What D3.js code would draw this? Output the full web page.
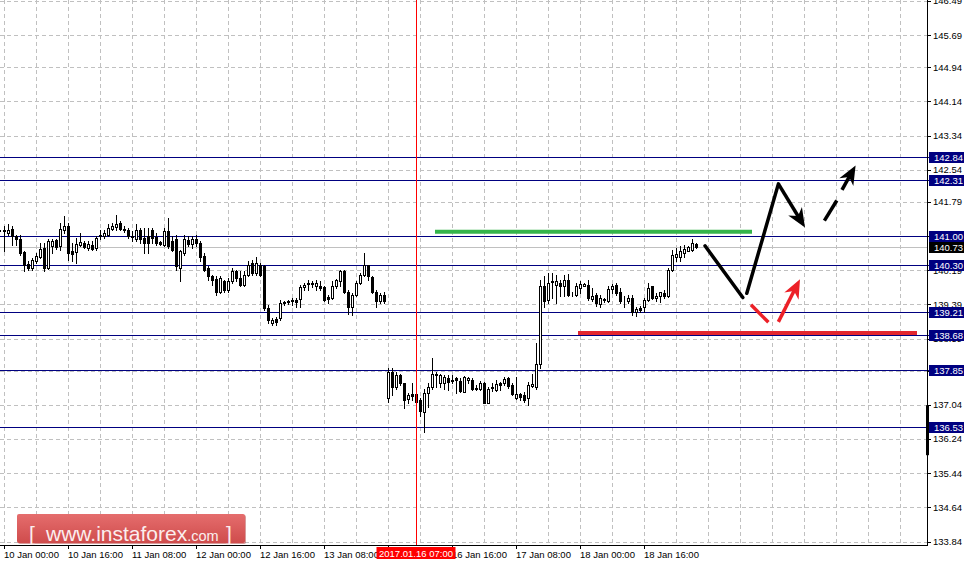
<!DOCTYPE html>
<html>
<head>
<meta charset="utf-8">
<script src="https://d3js.org/d3.v7.min.js"></script>
<style>
  body { margin: 0; background: #fff; }
  svg { display: block; font-family: "Liberation Sans", Arial, sans-serif; }
</style>
</head>
<body>
<div id="chart"></div>
<script>
// H1 bars, index 0 = 10 Jan 00:00 (first bar shown is index -1)
var firstBar = -1;
var opens = [
  141.12,141.12,141.06,141.16,140.98,140.93,140.61,140.34,140.24,140.40,
  140.51,140.71,140.24,140.75,140.89,140.75,141.14,141.23,140.63,140.61,
  140.79,140.83,140.71,140.79,140.71,140.99,141.00,141.02,141.16,141.20,
  141.30,141.16,141.14,141.00,140.92,141.12,140.94,140.98,141.12,140.97,
  140.84,140.79,141.10,140.87,140.91,140.24,140.59,140.89,140.81,140.92,
  140.83,140.53,140.24,140.05,139.98,139.69,139.93,139.73,139.93,140.16,
  140.01,139.85,140.08,140.36,140.12,140.32,140.28,139.30,138.95,139.04,
  139.07,139.43,139.45,139.50,139.50,139.51,139.79,139.90,139.90,139.81,
  139.83,139.79,139.56,139.54,139.83,139.93,140.16,139.69,139.32,139.61,
  139.90,140.08,140.30,140.03,139.69,139.46,139.61,137.19,137.81,137.46,
  137.74,137.54,137.17,137.30,137.29,137.15,136.88,137.32,137.46,137.77,
  137.56,137.56,137.66,137.60,137.66,137.60,137.35,137.62,137.62,137.44,
  137.42,137.54,137.07,137.44,137.38,137.54,137.56,137.66,137.50,137.21,
  137.29,137.27,137.19,137.48,137.46,137.99,139.83,139.50,139.92,139.85,
  139.89,139.81,139.95,139.61,139.61,139.77,139.83,139.85,139.51,139.61,
  139.40,139.50,139.46,139.75,139.85,139.67,139.50,139.46,139.54,139.22,
  139.30,139.34,139.50,139.81,139.54,139.58,139.65,139.58,140.20,140.49,
  140.49,140.59,140.65,140.67,140.80
];
var highs = [
  141.14,141.22,141.28,141.23,141.02,141.02,140.63,140.40,140.48,140.59,
  140.83,140.83,140.91,140.91,140.92,141.30,141.45,141.30,140.83,140.94,
  141.05,140.87,140.87,140.87,140.98,141.14,141.14,141.28,141.30,141.47,
  141.34,141.22,141.18,141.10,141.28,141.18,141.18,141.18,141.18,141.06,
  140.87,141.18,141.41,140.98,141.02,140.67,141.02,141.00,140.98,141.02,
  140.87,140.59,140.28,140.08,140.05,140.05,139.97,140.01,140.24,140.20,
  140.16,140.16,140.40,140.44,140.51,140.36,140.30,139.38,139.07,139.09,
  139.50,139.47,139.50,139.54,139.54,139.85,139.89,139.95,139.93,139.97,
  139.93,139.81,139.61,139.93,139.98,140.20,140.20,139.73,139.65,139.93,
  140.12,140.59,140.32,140.06,139.73,139.65,139.69,137.89,137.89,137.81,
  137.77,137.56,137.32,137.54,137.31,137.19,137.42,137.54,138.13,137.81,
  137.77,137.74,137.74,137.74,137.70,137.66,137.71,137.70,137.66,137.50,
  137.60,137.58,137.46,137.54,137.62,137.58,137.70,137.70,137.54,137.68,
  137.31,137.35,137.58,137.77,138.48,139.97,140.05,140.12,140.12,140.08,
  139.97,140.08,140.11,139.69,139.89,139.93,139.90,139.95,139.77,139.65,
  139.61,139.54,139.81,139.87,139.89,139.77,139.58,139.61,139.61,139.34,
  139.36,139.54,139.89,139.83,139.65,139.69,139.73,140.24,140.67,140.71,
  140.75,140.79,140.75,140.91,140.83
];
var lows = [
  141.10,140.63,141.02,140.79,140.79,140.55,140.16,140.19,140.19,140.36,
  140.48,140.16,140.22,140.59,140.69,140.67,141.06,140.44,140.40,140.36,
  140.75,140.71,140.67,140.66,140.67,140.91,140.94,140.98,141.12,141.14,
  141.12,141.08,140.94,140.87,140.87,140.83,140.59,140.59,140.83,140.79,
  140.79,140.75,140.71,140.63,140.20,139.93,140.55,140.75,140.71,140.75,
  140.40,140.16,139.97,139.85,139.61,139.65,139.69,139.69,139.89,139.93,
  139.81,139.81,140.05,140.08,140.08,140.05,139.26,138.95,138.91,138.91,
  139.03,139.38,139.40,139.38,139.34,139.34,139.73,139.73,139.79,139.73,
  139.73,139.46,139.42,139.51,139.77,139.81,139.65,139.17,139.14,139.58,
  139.87,140.05,139.97,139.65,139.32,139.42,139.42,137.11,137.27,137.42,
  137.50,136.97,137.07,137.15,137.07,136.77,136.41,136.99,137.42,137.46,
  137.46,137.42,137.38,137.54,137.31,137.34,137.34,137.54,137.38,137.38,
  137.38,137.07,137.07,137.37,137.37,137.38,137.50,137.44,137.27,137.17,
  137.15,137.11,137.03,137.46,137.42,137.89,139.34,139.42,139.54,139.42,
  139.58,139.58,139.58,139.58,139.58,139.65,139.81,139.50,139.46,139.36,
  139.34,139.44,139.44,139.65,139.61,139.42,139.34,139.42,139.15,139.11,
  139.22,139.22,139.46,139.51,139.46,139.44,139.54,139.56,140.18,140.40,
  140.40,140.51,140.63,140.65,140.71
];
var closes = [
  141.12,141.10,141.14,140.98,140.92,140.59,140.32,140.24,140.44,140.53,
  140.69,140.24,140.87,140.88,140.73,141.16,141.23,140.59,140.58,140.81,
  140.84,140.73,140.81,140.69,140.94,141.01,141.06,141.18,141.22,141.28,
  141.16,141.12,140.98,140.97,141.12,140.91,140.83,140.83,140.94,140.83,
  140.81,141.10,140.76,140.67,140.28,140.63,140.91,140.81,140.92,140.83,
  140.51,140.20,140.05,139.97,139.67,140.01,139.73,139.93,140.16,140.01,
  139.85,140.08,140.32,140.12,140.36,140.08,139.30,139.03,139.03,138.97,
  139.43,139.45,139.47,139.46,139.45,139.79,139.85,139.87,139.87,139.89,
  139.77,139.50,139.51,139.83,139.95,140.16,139.69,139.32,139.61,139.89,
  140.08,140.30,140.05,139.69,139.46,139.61,139.46,137.81,137.46,137.74,
  137.54,137.15,137.27,137.25,137.11,136.90,137.32,137.45,137.77,137.74,
  137.74,137.70,137.58,137.62,137.62,137.37,137.68,137.66,137.42,137.42,
  137.56,137.07,137.42,137.46,137.52,137.50,137.64,137.48,137.29,137.29,
  137.23,137.15,137.50,137.52,137.99,139.83,139.46,139.89,139.94,139.93,
  139.83,139.97,139.61,139.62,139.81,139.87,139.87,139.54,139.59,139.42,
  139.54,139.51,139.75,139.83,139.65,139.46,139.49,139.54,139.22,139.28,
  139.26,139.50,139.77,139.54,139.59,139.67,139.58,140.19,140.55,140.57,
  140.63,140.69,140.73,140.83,140.73
];

var levels = [142.84, 142.31, 141.00, 140.30, 139.21, 138.68, 137.85, 136.53];
var currentPrice = 140.73;
var priceTicks = [146.49, 145.69, 144.94, 144.14, 143.34, 142.54, 141.79, 140.99,
                  140.19, 139.39, 138.59, 137.84, 137.04, 136.24, 135.44, 134.64, 133.84];
var timeTickBars = [0, 16, 32, 48, 64, 80, 96, 112, 128, 144, 160];
var timeTickLabels = ['10 Jan 00:00', '10 Jan 16:00', '11 Jan 08:00', '12 Jan 00:00',
                      '12 Jan 16:00', '13 Jan 08:00', '16 Jan 00:00', '16 Jan 16:00',
                      '17 Jan 08:00', '18 Jan 00:00', '18 Jan 16:00'];
var cursorBar = 103;
var cursorLabel = '2017.01.16 07:00';

// analyst drawings, [bar, price]
var greenLine = [[107.75, 141.09], [187, 141.09]];
var redLine = [[143.5, 138.72], [228.25, 138.72]];
var blackDown = [[175.25, 140.76], [184.7, 139.55]];
var blackUp = [[185.7, 139.65], [193.6, 142.21]];
var blackArrow = [[193.6, 142.21], [200.25, 141.19]];
var blackDash = [[205.1, 141.35], [208.2, 141.82]];
var blackDashArrow = [[209.5, 142.07], [212.9, 142.64]];
var redDash = [[186.75, 139.38], [191.1, 138.97]];
var redArrow = [[193.6, 138.98], [199, 139.98]];
var sideBar = [137.03, 135.86];

var W = 970, H = 566, right = 927, bottom = 545;

var svg = d3.select('#chart').append('svg')
  .attr('width', W)
  .attr('height', H);

svg.append('rect').attr('width', W).attr('height', H).attr('fill', '#fff');

var x = d3.scaleLinear().domain([-1, 230.75]).range([0, right]);
var y = d3.scaleLinear().domain([133.84, 146.49]).range([541.5, 1]);
var py = function(v) { return Math.round(y(v)) + 0.5; };
var px = function(v) { return Math.round(x(v)) + 0.5; };

// grid
var gridX = d3.range(0, 232, 8);
svg.append('g').selectAll('line').data(gridX).enter().append('line')
  .attr('x1', px).attr('x2', px)
  .attr('y1', 0).attr('y2', bottom)
  .attr('stroke', '#c0c0c0')
  .attr('stroke-dasharray', '4,3');
svg.append('g').selectAll('line').data(priceTicks).enter().append('line')
  .attr('x1', 0).attr('x2', right)
  .attr('y1', py).attr('y2', py)
  .attr('stroke', '#c0c0c0')
  .attr('stroke-dasharray', '4,3');

// levels
svg.append('g').selectAll('line').data(levels).enter().append('line')
  .attr('x1', 0).attr('x2', right + 2)
  .attr('y1', py).attr('y2', py)
  .attr('stroke', '#000080');
svg.append('line')
  .attr('x1', 0).attr('x2', right)
  .attr('y1', py(currentPrice)).attr('y2', py(currentPrice))
  .attr('stroke', '#c0c0c0');

// candles
var bars = d3.range(opens.length).map(function(k) {
  return { i: firstBar + k, o: opens[k], h: highs[k], l: lows[k], c: closes[k] };
});
var cg = svg.append('g');
cg.selectAll('line').data(bars).enter().append('line')
  .attr('x1', function(d) { return px(d.i); })
  .attr('x2', function(d) { return px(d.i); })
  .attr('y1', function(d) { return Math.round(y(d.h)); })
  .attr('y2', function(d) { return Math.round(y(d.l)) + 1; })
  .attr('stroke', '#000');
cg.selectAll('rect').data(bars).enter().append('rect')
  .attr('x', function(d) { return px(d.i) - 1; })
  .attr('width', 2)
  .attr('y', function(d) { return py(Math.max(d.o, d.c)); })
  .attr('height', function(d) {
    return Math.max(0, Math.round(y(Math.min(d.o, d.c))) - Math.round(y(Math.max(d.o, d.c))));
  })
  .attr('fill', function(d) { return d.c >= d.o ? '#fff' : '#000'; })
  .attr('stroke', '#000');

// cursor
svg.append('line')
  .attr('x1', px(cursorBar)).attr('x2', px(cursorBar))
  .attr('y1', 0).attr('y2', bottom)
  .attr('stroke', '#ff0000');

// drawings
var seg = function(pts, color, width) {
  return svg.append('line')
    .attr('x1', x(pts[0][0])).attr('y1', y(pts[0][1]))
    .attr('x2', x(pts[1][0])).attr('y2', y(pts[1][1]))
    .attr('stroke', color)
    .attr('stroke-width', width);
};
seg(greenLine, '#35b54a', 4);
seg(redLine, '#e3262e', 4);

var arrow = function(pts, color) {
  var x0 = x(pts[0][0]), y0 = y(pts[0][1]);
  var x1 = x(pts[1][0]), y1 = y(pts[1][1]);
  var dx = x1 - x0, dy = y1 - y0, len = Math.sqrt(dx * dx + dy * dy);
  var ux = dx / len, uy = dy / len, nx = -uy, ny = ux;
  var L = 19, hw = 8;
  svg.append('line')
    .attr('x1', x0).attr('y1', y0)
    .attr('x2', x1 - ux * L * 0.6).attr('y2', y1 - uy * L * 0.6)
    .attr('stroke', color).attr('stroke-width', 3.5);
  var head = [
    [x1, y1],
    [x1 - ux * L + nx * hw, y1 - uy * L + ny * hw],
    [x1 - ux * L * 0.7, y1 - uy * L * 0.7],
    [x1 - ux * L - nx * hw, y1 - uy * L - ny * hw]
  ];
  svg.append('path')
    .attr('d', 'M' + head.join('L') + 'Z')
    .attr('fill', color);
};

seg(blackDown, '#000', 3.5).attr('stroke-linecap', 'round');
seg(blackUp, '#000', 3.5).attr('stroke-linecap', 'round');
arrow(blackArrow, '#000');
seg(blackDash, '#000', 3.5);
arrow(blackDashArrow, '#000');
seg(redDash, '#ec2027', 3.5);
arrow(redArrow, '#ec2027');

// axes
svg.append('line')
  .attr('x1', right + 0.5).attr('x2', right + 0.5)
  .attr('y1', 0).attr('y2', bottom + 1)
  .attr('stroke', '#000');
svg.append('line')
  .attr('x1', 0).attr('x2', right + 1)
  .attr('y1', bottom + 0.5).attr('y2', bottom + 0.5)
  .attr('stroke', '#000');
svg.append('rect')
  .attr('x', right - 1).attr('width', 3)
  .attr('y', y(sideBar[0])).attr('height', y(sideBar[1]) - y(sideBar[0]))
  .attr('fill', '#000');

var yAxis = svg.append('g').attr('font-size', '9.5px');
yAxis.selectAll('line').data(priceTicks).enter().append('line')
  .attr('x1', right).attr('x2', right + 4)
  .attr('y1', py).attr('y2', py)
  .attr('stroke', '#000');
yAxis.selectAll('text').data(priceTicks).enter().append('text')
  .attr('x', right + 6)
  .attr('y', function(d) { return y(d) + 3.4; })
  .attr('fill', '#000')
  .text(function(d) { return d.toFixed(2); });

var boxes = svg.append('g').attr('font-size', '9.5px');
var tagPrices = levels.concat([currentPrice]);
boxes.selectAll('rect').data(tagPrices).enter().append('rect')
  .attr('x', right + 2).attr('width', 35)
  .attr('y', function(d) { return Math.round(y(d)) - 5; })
  .attr('height', 11)
  .attr('fill', function(d) { return d === currentPrice ? '#000' : '#000080'; });
boxes.selectAll('text').data(tagPrices).enter().append('text')
  .attr('x', right + 7)
  .attr('y', function(d) { return Math.round(y(d)) + 4; })
  .attr('fill', '#fff')
  .text(function(d) { return d.toFixed(2); });

var xAxis = svg.append('g').attr('font-size', '9.5px');
xAxis.selectAll('line').data(timeTickBars).enter().append('line')
  .attr('x1', px).attr('x2', px)
  .attr('y1', bottom).attr('y2', bottom + 4)
  .attr('stroke', '#000');
xAxis.selectAll('text').data(timeTickBars).enter().append('text')
  .attr('x', function(d) { return x(d); })
  .attr('y', 557.5)
  .attr('fill', '#000')
  .text(function(d, k) { return timeTickLabels[k]; });

svg.append('rect')
  .attr('x', x(cursorBar) - 39.5).attr('width', 79)
  .attr('y', 547).attr('height', 12)
  .attr('fill', '#ff0000');
svg.append('text')
  .attr('x', x(cursorBar)).attr('y', 556.5)
  .attr('text-anchor', 'middle')
  .attr('font-size', '9.5px')
  .attr('fill', '#fff')
  .text(cursorLabel);

// logo
var grad = svg.append('defs').append('linearGradient')
  .attr('id', 'logoFill').attr('x1', 0).attr('y1', 0).attr('x2', 0).attr('y2', 1);
grad.append('stop').attr('offset', '0%').attr('stop-color', '#e56d6d');
grad.append('stop').attr('offset', '100%').attr('stop-color', '#cf4c4c');
var logo = svg.append('g');
logo.append('rect')
  .attr('x', 18).attr('y', 515).attr('width', 228).attr('height', 29).attr('rx', 2)
  .attr('fill', '#b23a3a').attr('opacity', 0.5);
logo.append('rect')
  .attr('x', 17).attr('y', 514).attr('width', 228).attr('height', 29).attr('rx', 2)
  .attr('fill', 'url(#logoFill)');
var lt = logo.append('text').attr('y', 541).attr('fill', '#fbeeee');
lt.append('tspan').attr('x', 29).attr('font-size', '21px').text('[');
lt.append('tspan').attr('x', 46).attr('font-size', '21px').text('www.instaforex');
lt.append('tspan').attr('font-size', '14.5px').text('.com');
lt.append('tspan').attr('x', 226).attr('font-size', '21px').text(']');
</script>
</body>
</html>
